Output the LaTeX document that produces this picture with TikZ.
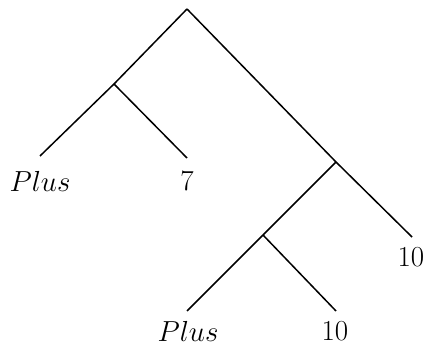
\documentclass[tikz,border=0pt]{standalone}
\usepackage{fix-cm}
\begin{document}
\begin{tikzpicture}[x=1pt,y=-1pt,
  edge/.style={line width=1.5pt},
  leaf/.style={anchor=north,inner sep=0pt,outer sep=0pt,font=\fontsize{29}{35}\selectfont},
  branch/.style={inner sep=0pt,outer sep=0pt}]
\useasboundingbox (0,0) rectangle (430,347);
\coordinate (root) at (187,9);
\coordinate (a) at (114,84);
\coordinate (b) at (336,162);
\coordinate (c) at (263,235);
\node[leaf] (p1) at (40,171) {$Plus$};
\node[leaf] (s7) at (187,172) {$7$};
\node[leaf] (t1) at (411,248) {$10$};
\node[leaf] (p2) at (188,321) {$Plus$};
\node[leaf] (t2) at (335,322) {$10$};
\coordinate (e1) at (40,156);
\coordinate (e7) at (187,158);
\coordinate (et1) at (412,237);
\coordinate (ep2) at (187,311);
\coordinate (et2) at (336,311);
\draw[edge] (root) -- (a);
\draw[edge] (root) -- (b);
\draw[edge] (a) -- (e1);
\draw[edge] (a) -- (e7);
\draw[edge] (b) -- (c);
\draw[edge] (b) -- (et1);
\draw[edge] (c) -- (ep2);
\draw[edge] (c) -- (et2);
\end{tikzpicture}
\end{document}
